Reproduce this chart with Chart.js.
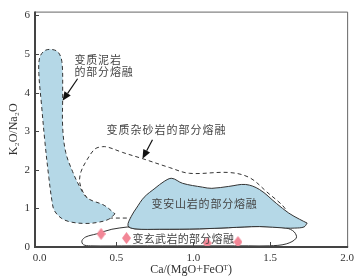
<!DOCTYPE html>
<html>
<head>
<meta charset="utf-8">
<script src="https://cdn.jsdelivr.net/npm/chart.js@4.4.0/dist/chart.umd.min.js"></script>
<style>
  html, body { margin: 0; padding: 0; background: #fff; }
</style>
</head>
<body>
<canvas id="chart" width="359" height="280"></canvas>
<script>
// field outlines, [Ca/(MgO+FeOT), K2O/Na2O]
const pelite = [
  [0.49, 0.86], [0.45, 0.72], [0.38, 0.64], [0.30, 0.61], [0.20, 0.65], [0.14, 0.75],
  [0.095, 0.95], [0.08, 1.2], [0.06, 1.8], [0.035, 2.7], [0.012, 3.7], [-0.005, 4.5],
  [0.0, 4.9], [0.03, 5.08], [0.075, 5.12], [0.12, 5.05], [0.145, 4.8], [0.15, 4.0],
  [0.15, 3.1], [0.17, 2.45], [0.215, 1.95], [0.26, 1.57], [0.31, 1.27], [0.42, 1.08],
  [0.49, 0.86]
];
const greywacke = [
  [0.36, 0.75], [0.6, 0.75], [0.7, 0.75], [1.2, 0.9], [1.56, 0.82], [1.604, 0.95],
  [1.474, 1.44], [1.364, 1.80], [1.234, 1.93], [0.974, 1.91], [0.844, 2.06], [0.669, 2.29],
  [0.54, 2.45], [0.45, 2.58], [0.41, 2.6], [0.36, 2.54], [0.31, 2.27], [0.27, 1.96],
  [0.26, 1.7], [0.28, 1.44], [0.31, 1.26], [0.36, 0.75]
];
const andesite = [
  [1.74, 0.62], [1.69, 0.72], [1.62, 0.88], [1.54, 1.13], [1.43, 1.49], [1.34, 1.62],
  [1.23, 1.57], [1.12, 1.52], [1.06, 1.55], [0.93, 1.65], [0.86, 1.78], [0.81, 1.70],
  [0.75, 1.52], [0.68, 1.29], [0.63, 1.01], [0.597, 0.80], [0.575, 0.55], [0.62, 0.47],
  [0.78, 0.46], [1.04, 0.47], [1.23, 0.50], [1.43, 0.53], [1.6, 0.49], [1.66, 0.49],
  [1.72, 0.52], [1.74, 0.62]
];
const basalt = [
  [0.575, 0.52], [0.47, 0.46], [0.37, 0.34], [0.30, 0.26], [0.275, 0.16], [0.285, 0.06],
  [0.33, 0.03], [0.6, 0.03], [1.0, 0.03], [1.36, 0.03], [1.494, 0.03], [1.604, 0.08],
  [1.669, 0.23], [1.656, 0.39], [1.604, 0.49], [1.43, 0.53], [1.23, 0.50], [1.04, 0.47],
  [0.78, 0.46], [0.62, 0.47], [0.575, 0.52]
];
const samples = [[0.40, 0.34], [0.565, 0.23], [1.09, 0.10], [1.29, 0.13]];

const xTicks = [0, 0.5, 1.0, 1.5, 2.0];
const yTicks = [0, 1, 2, 3, 4, 5, 6];

const fieldNames = ['变质泥岩', '的部分熔融', '变质杂砂岩的部分熔融', '变安山岩的部分熔融', '变玄武岩的部分熔融'];

const toXY = pts => pts.map(p => ({ x: p[0], y: p[1] }));
const ink = '#333';
const blue = 'rgb(181, 216, 231)';

function diamond(w, h, color) {
  const c = document.createElement('canvas');
  c.width = w; c.height = h;
  const g = c.getContext('2d');
  g.fillStyle = color;
  g.beginPath();
  g.moveTo(w / 2, 0); g.lineTo(w, h / 2); g.lineTo(w / 2, h); g.lineTo(0, h / 2);
  g.closePath(); g.fill();
  return c;
}

// labels and arrows, placed in data units
const labels = [
  { text: fieldNames[0], x: 0.227, y: 4.85, pitch: 11.8 },
  { text: fieldNames[1], x: 0.227, y: 4.54, pitch: 11.8 },
  { text: fieldNames[2], x: 0.435, y: 3.04, pitch: 12 },
  { text: fieldNames[3], x: 0.727, y: 1.11, pitch: 11.8 },
  { text: fieldNames[4], x: 0.604, y: 0.21, pitch: 11.3 }
];
const arrows = [
  { from: [0.247, 4.36], to: [0.149, 3.79] },
  { from: [0.734, 2.78], to: [0.669, 2.29] }
];

const extras = {
  id: 'extras',
  afterDatasetsDraw(chart) {
    const { ctx, chartArea: a, scales: { x, y } } = chart;
    ctx.save();
    // text
    ctx.fillStyle = '#444';
    ctx.font = '11px "Noto Sans CJK SC"';
    ctx.textBaseline = 'middle';
    ctx.textAlign = 'left';
    labels.forEach(l => {
      const px = x.getPixelForValue(l.x), py = y.getPixelForValue(l.y);
      [...l.text].forEach((ch, i) => ctx.fillText(ch, px + i * l.pitch, py));
    });
    // arrows
    ctx.strokeStyle = '#111';
    ctx.fillStyle = '#111';
    ctx.lineWidth = 1.2;
    arrows.forEach(ar => {
      const x0 = x.getPixelForValue(ar.from[0]), y0 = y.getPixelForValue(ar.from[1]);
      const x1 = x.getPixelForValue(ar.to[0]), y1 = y.getPixelForValue(ar.to[1]);
      const ang = Math.atan2(y1 - y0, x1 - x0);
      const len = 9, hw = 3.8;
      const bx = x1 - len * Math.cos(ang), by = y1 - len * Math.sin(ang);
      ctx.beginPath(); ctx.moveTo(x0, y0); ctx.lineTo(bx, by); ctx.stroke();
      ctx.beginPath();
      ctx.moveTo(x1, y1);
      ctx.lineTo(bx + hw * Math.sin(ang), by - hw * Math.cos(ang));
      ctx.lineTo(bx - hw * Math.sin(ang), by + hw * Math.cos(ang));
      ctx.closePath(); ctx.fill();
    });
    // frame
    ctx.strokeStyle = '#666';
    ctx.lineWidth = 1;
    ctx.beginPath();
    ctx.moveTo(a.left, a.top + 0.5); ctx.lineTo(a.right + 0.5, a.top + 0.5); ctx.lineTo(a.right + 0.5, a.bottom);
    ctx.stroke();
    ctx.strokeStyle = '#444';
    ctx.lineWidth = 2;
    ctx.beginPath();
    ctx.moveTo(a.left, a.top); ctx.lineTo(a.left, a.bottom); ctx.lineTo(a.right + 1, a.bottom);
    ctx.stroke();
    // inward ticks
    ctx.lineWidth = 1;
    yTicks.forEach(v => {
      const py = Math.round(y.getPixelForValue(v)) + 0.5;
      ctx.beginPath(); ctx.moveTo(a.left, py); ctx.lineTo(a.left + 4, py); ctx.stroke();
    });
    xTicks.slice(1, -1).forEach(v => {
      const px = Math.round(x.getPixelForValue(v)) + 0.5;
      ctx.beginPath(); ctx.moveTo(px, a.bottom); ctx.lineTo(px, a.bottom - 5); ctx.stroke();
    });
    ctx.restore();
  }
};

const field = (data, fill, dashed, order) => ({
  data: toXY(data),
  showLine: true,
  tension: 0.35,
  pointRadius: 0,
  borderColor: ink,
  borderWidth: 1,
  borderDash: dashed ? [4, 3] : [],
  backgroundColor: fill || 'rgba(0,0,0,0)',
  fill: fill ? 'shape' : false,
  order: order
});

new Chart(document.getElementById('chart'), {
  type: 'scatter',
  data: {
    datasets: [
      field(greywacke, null, true, 4),
      field(basalt, '#fff', false, 3),
      field(pelite, blue, true, 2),
      field(andesite, blue, false, 1),
      {
        data: toXY(samples),
        pointStyle: diamond(9, 12, 'rgb(242, 134, 150)'),
        pointRadius: 5,
        order: 0
      }
    ]
  },
  options: {
    responsive: false,
    animation: false,
    events: [],
    layout: { padding: { top: 10, right: 11, left: 0, bottom: 0 } },
    plugins: { legend: { display: false }, tooltip: { enabled: false } },
    scales: {
      x: {
        type: 'linear',
        min: -0.03,
        max: 2.0,
        afterFit: s => { s.height = 33; },
        afterBuildTicks: s => { s.ticks = xTicks.map(v => ({ value: v })); },
        grid: { display: false, drawTicks: false },
        border: { display: false },
        ticks: {
          padding: 5,
          color: ink,
          font: { family: '"Liberation Serif"', size: 11 },
          callback: v => v.toFixed(1)
        },
        title: {
          display: true,
          text: 'Ca/(MgO+FeOᵀ)',
          color: ink,
          font: { family: '"Liberation Serif"', size: 12 },
          padding: { top: 0, bottom: 3 }
        }
      },
      y: {
        type: 'linear',
        min: 0,
        max: 6.1,
        afterFit: s => { s.width = 35; },
        afterBuildTicks: s => { s.ticks = yTicks.map(v => ({ value: v })); },
        grid: { display: false, drawTicks: false },
        border: { display: false },
        ticks: {
          padding: 5,
          color: ink,
          font: { family: '"Liberation Serif"', size: 11 },
          callback: v => String(v)
        },
        title: {
          display: true,
          text: 'K₂O/Na₂O',
          color: ink,
          font: { family: '"Liberation Serif"', size: 12 },
          padding: { top: 7, bottom: 0 }
        }
      }
    }
  },
  plugins: [extras]
});
</script>
</body>
</html>
